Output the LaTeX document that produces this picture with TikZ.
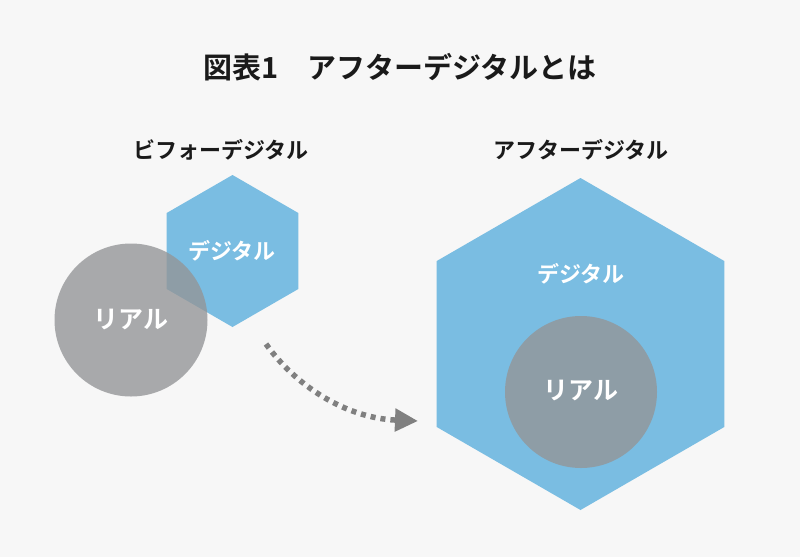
\documentclass[tikz,border=0pt]{standalone}
\usepackage{fontspec}
\setmainfont{Noto Sans CJK JP}[BoldFont={Noto Sans CJK JP Bold}]
\usetikzlibrary{arrows.meta}
\definecolor{bgc}{RGB}{247,247,247}
\definecolor{hexblue}{RGB}{122,189,226}
\definecolor{realgray}{RGB}{148,149,151}
\definecolor{arrgray}{RGB}{128,128,128}
\definecolor{titlec}{RGB}{26,26,26}
\tikzset{
  hexshape/.style={fill=hexblue},
  realshape/.style={fill=realgray,fill opacity=0.79},
  titletext/.style={text=titlec,font=\bfseries\fontsize{29}{34}\selectfont,inner sep=0pt},
  labeltext/.style={text=titlec,font=\bfseries\fontsize{22}{26}\selectfont,inner sep=0pt},
  innertext/.style={text=white,font=\bfseries\fontsize{22}{26}\selectfont,inner sep=0pt},
  realtext/.style={text=white,font=\bfseries\fontsize{25}{30}\selectfont,inner sep=0pt},
  flowarrow/.style={draw=arrgray,line width=5.5pt,dash pattern=on 5pt off 5pt,
    -{Triangle[length=23pt,width=22pt]}}
}
\begin{document}
\begin{tikzpicture}[x=1pt,y=-1pt]
\fill[bgc] (0,0) rectangle (800,557);
\useasboundingbox (0,0) rectangle (800,557);

\node[titletext] (title) at (400,67) {図表1　アフターデジタルとは};
\node[labeltext] (lbefore) at (221,150) {ビフォーデジタル};
\node[labeltext] (lafter) at (581,150) {アフターデジタル};

% before: small hexagon and circle
\coordinate (hexS) at (232.5,251);
\fill[hexshape] (hexS) +(90:76) -- +(150:76) -- +(210:76) -- +(270:76) -- +(330:76) -- +(30:76) -- cycle;
\node[innertext] (digS) at (232,251) {デジタル};
\coordinate (cirS) at (131,320);
\fill[realshape] (cirS) circle[radius=76.5];
\node[realtext] (realS) at (131,319) {リアル};

% after: large hexagon and circle
\coordinate (hexL) at (580.5,344);
\fill[hexshape] (hexL) +(90:166) -- +(150:166) -- +(210:166) -- +(270:166) -- +(330:166) -- +(30:166) -- cycle;
\node[innertext] (digL) at (581,274) {デジタル};
\coordinate (cirL) at (581,392);
\fill[realshape] (cirL) circle[radius=76];
\node[realtext] (realL) at (581,390) {リアル};

% arrow
\coordinate (arrS) at (266,344);
\coordinate (arrE) at (418,421);
\draw[flowarrow] (arrS) .. controls (295,385) and (345,418) .. (arrE);
\end{tikzpicture}
\end{document}
